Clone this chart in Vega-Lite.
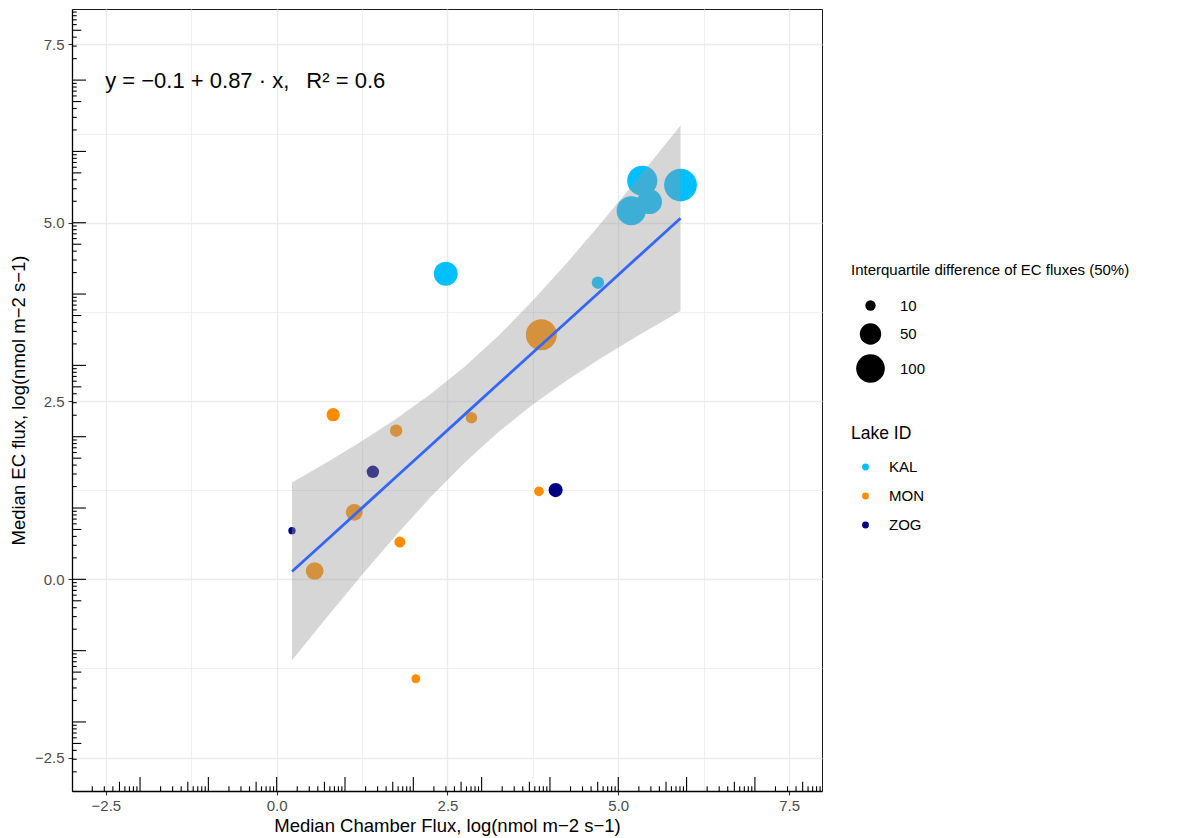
{
"$schema": "https://vega.github.io/schema/vega-lite/v6.json",
"width": 750, "height": 782,
"autosize": "none",
"padding": {"left": 72, "top": 9, "right": 373, "bottom": 47},
"background": "white",
"config": {"font": "Liberation Sans", "view": {"stroke": "#1a1a1a", "strokeWidth": 1}},
"datasets": {
"points": [
{"lake":"KAL","x":5.351,"y":5.589,"iqr":113},
{"lake":"KAL","x":5.911,"y":5.529,"iqr":139},
{"lake":"KAL","x":5.458,"y":5.295,"iqr":71},
{"lake":"KAL","x":5.190,"y":5.168,"iqr":105},
{"lake":"KAL","x":2.475,"y":4.285,"iqr":65},
{"lake":"KAL","x":4.702,"y":4.159,"iqr":14.5},
{"lake":"MON","x":3.874,"y":3.429,"iqr":121.5},
{"lake":"MON","x":0.827,"y":2.308,"iqr":16.8},
{"lake":"MON","x":1.749,"y":2.084,"iqr":14.5},
{"lake":"MON","x":2.851,"y":2.266,"iqr":12.4},
{"lake":"MON","x":1.135,"y":0.939,"iqr":28.5},
{"lake":"MON","x":0.556,"y":0.117,"iqr":32},
{"lake":"MON","x":1.803,"y":0.523,"iqr":11.1},
{"lake":"MON","x":3.839,"y":1.234,"iqr":8.8},
{"lake":"MON","x":2.037,"y":-1.394,"iqr":7.4},
{"lake":"ZOG","x":1.408,"y":1.508,"iqr":14.5},
{"lake":"ZOG","x":4.083,"y":1.252,"iqr":19.4},
{"lake":"ZOG","x":0.224,"y":0.682,"iqr":5.3}
],
"fit": [
{"x":0.224,"fit":0.109,"lo":-1.134,"hi":1.357},
{"x":0.75,"fit":0.566,"lo":-0.515,"hi":1.648},
{"x":1.25,"fit":1.002,"lo":0.063,"hi":1.941},
{"x":1.75,"fit":1.438,"lo":0.621,"hi":2.253},
{"x":2.25,"fit":1.873,"lo":1.150,"hi":2.596},
{"x":2.75,"fit":2.309,"lo":1.636,"hi":2.981},
{"x":3.25,"fit":2.745,"lo":2.071,"hi":3.419},
{"x":3.75,"fit":3.180,"lo":2.453,"hi":3.908},
{"x":4.25,"fit":3.615,"lo":2.792,"hi":4.439},
{"x":4.75,"fit":4.051,"lo":3.103,"hi":4.999},
{"x":5.25,"fit":4.487,"lo":3.394,"hi":5.579},
{"x":5.911,"fit":5.062,"lo":3.761,"hi":6.363}
],
"logticks": [
{"p":-2.699,"kind":"S"},{"p":-2.523,"kind":"S"},{"p":-2.398,"kind":"S"},{"p":-2.301,"kind":"M"},{"p":-2.222,"kind":"S"},{"p":-2.155,"kind":"S"},{"p":-2.097,"kind":"S"},{"p":-2.046,"kind":"S"},
{"p":-2,"kind":"L"},{"p":-1.699,"kind":"S"},{"p":-1.523,"kind":"S"},{"p":-1.398,"kind":"S"},{"p":-1.301,"kind":"M"},{"p":-1.222,"kind":"S"},{"p":-1.155,"kind":"S"},{"p":-1.097,"kind":"S"},{"p":-1.046,"kind":"S"},
{"p":-1,"kind":"L"},{"p":-0.699,"kind":"S"},{"p":-0.523,"kind":"S"},{"p":-0.398,"kind":"S"},{"p":-0.301,"kind":"M"},{"p":-0.222,"kind":"S"},{"p":-0.155,"kind":"S"},{"p":-0.097,"kind":"S"},{"p":-0.046,"kind":"S"},
{"p":0,"kind":"L"},{"p":0.301,"kind":"S"},{"p":0.477,"kind":"S"},{"p":0.602,"kind":"S"},{"p":0.699,"kind":"M"},{"p":0.778,"kind":"S"},{"p":0.845,"kind":"S"},{"p":0.903,"kind":"S"},{"p":0.954,"kind":"S"},
{"p":1,"kind":"L"},{"p":1.301,"kind":"S"},{"p":1.477,"kind":"S"},{"p":1.602,"kind":"S"},{"p":1.699,"kind":"M"},{"p":1.778,"kind":"S"},{"p":1.845,"kind":"S"},{"p":1.903,"kind":"S"},{"p":1.954,"kind":"S"},
{"p":2,"kind":"L"},{"p":2.301,"kind":"S"},{"p":2.477,"kind":"S"},{"p":2.602,"kind":"S"},{"p":2.699,"kind":"M"},{"p":2.778,"kind":"S"},{"p":2.845,"kind":"S"},{"p":2.903,"kind":"S"},{"p":2.954,"kind":"S"},
{"p":3,"kind":"L"},{"p":3.301,"kind":"S"},{"p":3.477,"kind":"S"},{"p":3.602,"kind":"S"},{"p":3.699,"kind":"M"},{"p":3.778,"kind":"S"},{"p":3.845,"kind":"S"},{"p":3.903,"kind":"S"},{"p":3.954,"kind":"S"},
{"p":4,"kind":"L"},{"p":4.301,"kind":"S"},{"p":4.477,"kind":"S"},{"p":4.602,"kind":"S"},{"p":4.699,"kind":"M"},{"p":4.778,"kind":"S"},{"p":4.845,"kind":"S"},{"p":4.903,"kind":"S"},{"p":4.954,"kind":"S"},
{"p":5,"kind":"L"},{"p":5.301,"kind":"S"},{"p":5.477,"kind":"S"},{"p":5.602,"kind":"S"},{"p":5.699,"kind":"M"},{"p":5.778,"kind":"S"},{"p":5.845,"kind":"S"},{"p":5.903,"kind":"S"},{"p":5.954,"kind":"S"},
{"p":6,"kind":"L"},{"p":6.301,"kind":"S"},{"p":6.477,"kind":"S"},{"p":6.602,"kind":"S"},{"p":6.699,"kind":"M"},{"p":6.778,"kind":"S"},{"p":6.845,"kind":"S"},{"p":6.903,"kind":"S"},{"p":6.954,"kind":"S"},
{"p":7,"kind":"L"},{"p":7.301,"kind":"S"},{"p":7.477,"kind":"S"},{"p":7.602,"kind":"S"},{"p":7.699,"kind":"M"},{"p":7.778,"kind":"S"},{"p":7.845,"kind":"S"},{"p":7.903,"kind":"S"},{"p":7.954,"kind":"S"}
]
},
"layer": [
{
"data": {"name": "points"},
"mark": {"type": "circle", "opacity": 1, "strokeWidth": 0},
"encoding": {
"x": {"field": "x", "type": "quantitative", "scale": {"domain": [-2.996, 7.982], "nice": false, "zero": false},
 "axis": {"title": "Median Chamber Flux, log(nmol m−2 s−1)", "values": [-2.5,-1.25,0,1.25,2.5,3.75,5,6.25,7.5], "format": ".1f",
  "labelExpr": "datum.value % 2.5 === 0 ? datum.label : ''",
  "grid": true, "gridColor": "#EBEBEB",
  "gridWidth": {"condition": {"test": "datum.value % 2.5 !== 0", "value": 0.8}, "value": 1.4},
  "tickOpacity": {"condition": {"test": "datum.value % 2.5 !== 0", "value": 0}, "value": 1},
  "tickColor": "#333333", "tickSize": 4, "tickWidth": 1.1,
  "labelColor": "#4D4D4D", "labelFontSize": 15, "labelPadding": 3, "labelFlush": false, "labelOverlap": false,
  "titleFontSize": 18.5, "titleFontWeight": "normal", "titleColor": "#000000", "titlePadding": 3,
  "domainColor": "#000000", "domainWidth": 1.3}},
"y": {"field": "y", "type": "quantitative", "scale": {"domain": [-2.968, 7.997], "nice": false, "zero": false},
 "axis": {"title": "Median EC flux, log(nmol m−2 s−1)", "values": [-2.5,-1.25,0,1.25,2.5,3.75,5,6.25,7.5], "format": ".1f",
  "labelExpr": "datum.value % 2.5 === 0 ? datum.label : ''",
  "grid": true, "gridColor": "#EBEBEB",
  "gridWidth": {"condition": {"test": "datum.value % 2.5 !== 0", "value": 0.8}, "value": 1.4},
  "tickOpacity": {"condition": {"test": "datum.value % 2.5 !== 0", "value": 0}, "value": 1},
  "tickColor": "#333333", "tickSize": 4, "tickWidth": 1.1,
  "labelColor": "#4D4D4D", "labelFontSize": 15, "labelPadding": 4, "labelFlush": false, "labelOverlap": false,
  "titleFontSize": 18.5, "titleFontWeight": "normal", "titleColor": "#000000", "titlePadding": 6,
  "domainColor": "#000000", "domainWidth": 1.3}},
"color": {"field": "lake", "type": "nominal",
 "scale": {"domain": ["KAL","MON","ZOG"], "range": ["#00BFFF","#FF8C00","#000080"]},
 "legend": {"title": "Lake ID", "orient": "none", "legendX": 779, "legendY": 416,
  "symbolType": "circle", "symbolSize": 47, "symbolOpacity": 1, "symbolStrokeWidth": 0, "symbolOffset": 7,
  "titleFontSize": 17.5, "titleFontWeight": "normal", "titleColor": "#000000", "titlePadding": 17,
  "labelFontSize": 15, "labelColor": "#000000", "labelOffset": 16, "rowPadding": 13}},
"size": {"field": "iqr", "type": "quantitative",
 "scale": {"type": "pow", "exponent": 0.8, "domain": [10, 100], "range": [107.5, 819], "zero": false, "clamp": false},
 "legend": {"title": "Interquartile difference of EC fluxes (50%)", "values": [10, 50, 100], "orient": "none", "legendX": 779, "legendY": 254,
  "symbolType": "circle", "symbolFillColor": "#000000", "symbolStrokeWidth": 0, "symbolOpacity": 1, "symbolOffset": 5,
  "titleFontSize": 15, "titleFontWeight": "normal", "titleColor": "#000000", "titleLimit": 500, "titlePadding": 20,
  "labelFontSize": 15, "labelColor": "#000000", "labelOffset": 15, "rowPadding": 9}}
}
},
{
"data": {"name": "fit"},
"mark": {"type": "area", "color": "#999999", "opacity": 0.4},
"encoding": {
"x": {"field": "x", "type": "quantitative", "scale": {"domain": [-2.996, 7.982], "nice": false, "zero": false}},
"y": {"field": "lo", "type": "quantitative", "scale": {"domain": [-2.968, 7.997], "nice": false, "zero": false}},
"y2": {"field": "hi"}
}
},
{
"data": {"name": "fit"},
"mark": {"type": "line", "color": "#3366FF", "strokeWidth": 2.8},
"encoding": {
"x": {"field": "x", "type": "quantitative", "scale": {"domain": [-2.996, 7.982], "nice": false, "zero": false}},
"y": {"field": "fit", "type": "quantitative", "scale": {"domain": [-2.968, 7.997], "nice": false, "zero": false}}
}
},
{
"data": {"name": "logticks"}, "transform": [{"filter": "datum.kind === 'L'"}],
"mark": {"type": "rule", "color": "#000000", "strokeWidth": 1.1},
"encoding": {
"x": {"field": "p", "type": "quantitative", "scale": {"domain": [-2.996, 7.982], "nice": false, "zero": false}},
"y": {"datum": -2.968, "type": "quantitative", "scale": {"domain": [-2.968, 7.997], "nice": false, "zero": false}},
"y2": {"datum": -2.772}
}
},
{
"data": {"name": "logticks"}, "transform": [{"filter": "datum.kind === 'M'"}],
"mark": {"type": "rule", "color": "#000000", "strokeWidth": 1.1},
"encoding": {
"x": {"field": "p", "type": "quantitative", "scale": {"domain": [-2.996, 7.982], "nice": false, "zero": false}},
"y": {"datum": -2.968, "type": "quantitative", "scale": {"domain": [-2.968, 7.997], "nice": false, "zero": false}},
"y2": {"datum": -2.838}
}
},
{
"data": {"name": "logticks"}, "transform": [{"filter": "datum.kind === 'S'"}],
"mark": {"type": "rule", "color": "#000000", "strokeWidth": 1.1},
"encoding": {
"x": {"field": "p", "type": "quantitative", "scale": {"domain": [-2.996, 7.982], "nice": false, "zero": false}},
"y": {"datum": -2.968, "type": "quantitative", "scale": {"domain": [-2.968, 7.997], "nice": false, "zero": false}},
"y2": {"datum": -2.902}
}
},
{
"data": {"name": "logticks"}, "transform": [{"filter": "datum.kind === 'L'"}],
"mark": {"type": "rule", "color": "#000000", "strokeWidth": 1.1},
"encoding": {
"y": {"field": "p", "type": "quantitative", "scale": {"domain": [-2.968, 7.997], "nice": false, "zero": false}},
"x": {"datum": -2.996, "type": "quantitative", "scale": {"domain": [-2.996, 7.982], "nice": false, "zero": false}},
"x2": {"datum": -2.791}
}
},
{
"data": {"name": "logticks"}, "transform": [{"filter": "datum.kind === 'M'"}],
"mark": {"type": "rule", "color": "#000000", "strokeWidth": 1.1},
"encoding": {
"y": {"field": "p", "type": "quantitative", "scale": {"domain": [-2.968, 7.997], "nice": false, "zero": false}},
"x": {"datum": -2.996, "type": "quantitative", "scale": {"domain": [-2.996, 7.982], "nice": false, "zero": false}},
"x2": {"datum": -2.860}
}
},
{
"data": {"name": "logticks"}, "transform": [{"filter": "datum.kind === 'S'"}],
"mark": {"type": "rule", "color": "#000000", "strokeWidth": 1.1},
"encoding": {
"y": {"field": "p", "type": "quantitative", "scale": {"domain": [-2.968, 7.997], "nice": false, "zero": false}},
"x": {"datum": -2.996, "type": "quantitative", "scale": {"domain": [-2.996, 7.982], "nice": false, "zero": false}},
"x2": {"datum": -2.927}
}
},
{
"data": {"values": [{}]},
"mark": {"type": "text", "align": "left", "baseline": "middle", "fontSize": 22, "font": "Liberation Sans", "color": "#000000"},
"encoding": {
"x": {"datum": -2.51, "type": "quantitative", "scale": {"domain": [-2.996, 7.982], "nice": false, "zero": false}},
"y": {"datum": 6.99, "type": "quantitative", "scale": {"domain": [-2.968, 7.997], "nice": false, "zero": false}},
"text": {"value": "y = −0.1 + 0.87 · x,\u2002 R² = 0.6"}
}
}
]
}
